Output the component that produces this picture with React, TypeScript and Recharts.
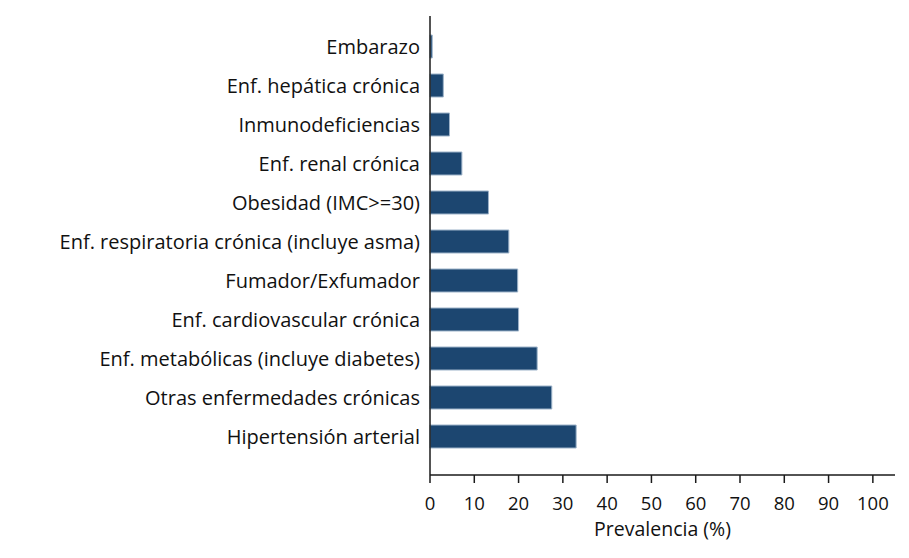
import React from 'react';
import { BarChart, Bar, XAxis, YAxis } from 'recharts';

const categories = [
  'Embarazo',
  'Enf. hepática crónica',
  'Inmunodeficiencias',
  'Enf. renal crónica',
  'Obesidad (IMC>=30)',
  'Enf. respiratoria crónica (incluye asma)',
  'Fumador/Exfumador',
  'Enf. cardiovascular crónica',
  'Enf. metabólicas (incluye diabetes)',
  'Otras enfermedades crónicas',
  'Hipertensión arterial',
];
const prevalence = [0.5, 3.0, 4.4, 7.2, 13.2, 17.8, 19.8, 20.0, 24.2, 27.5, 33.0];
const xTicks = [0, 10, 20, 30, 40, 50, 60, 70, 80, 90, 100];

const data = categories.map((name, i) => ({ name, value: prevalence[i] }));

const FONT = '"Open Sans", sans-serif';

export default function App() {
  return (
    <div style={{ position: 'absolute', left: 0, top: 0, width: 909, height: 558, background: '#fff' }}>
      <BarChart
        width={909}
        height={558}
        data={data}
        layout="vertical"
        margin={{ top: 16, right: 14, bottom: 18, left: 0 }}
      >
        <XAxis
          type="number"
          domain={[0, 105]}
          ticks={xTicks}
          interval={0}
          height={65}
          tickSize={8}
          tickMargin={14}
          axisLine={{ stroke: '#1a1a1a', strokeWidth: 1.5 }}
          tickLine={{ stroke: '#1a1a1a', strokeWidth: 1.5 }}
          tick={{ fill: '#111', fontSize: 18.5, fontFamily: FONT }}
          label={{
            value: 'Prevalencia (%)',
            position: 'insideBottom',
            offset: 4,
            fill: '#111',
            fontSize: 19.5,
            fontFamily: FONT,
          }}
        />
        <YAxis
          type="category"
          dataKey="name"
          width={430}
          padding={{ top: 11, bottom: 19 }}
          tickLine={false}
          tickSize={0}
          tickMargin={10}
          interval={0}
          axisLine={{ stroke: '#1a1a1a', strokeWidth: 1.5 }}
          tick={{ fill: '#111', fontSize: 20, fontFamily: FONT }}
        />
        <Bar
          dataKey="value"
          fill="#1c4670"
          stroke="#9db3c9"
          strokeWidth={1}
          barSize={23}
          isAnimationActive={false}
        />
      </BarChart>
    </div>
  );
}
